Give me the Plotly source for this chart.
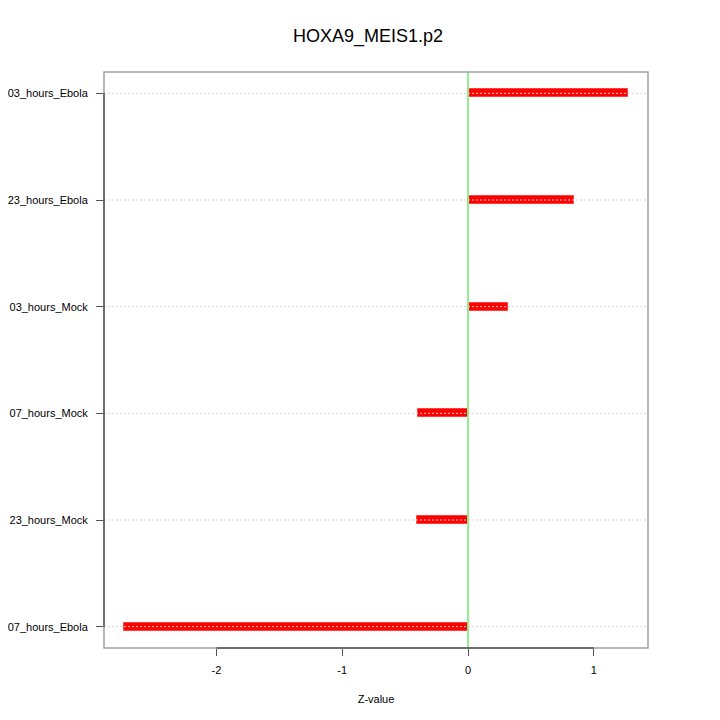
import plotly.graph_objects as go

title = "HOXA9_MEIS1.p2"
categories = ["07_hours_Ebola", "23_hours_Mock", "07_hours_Mock",
              "03_hours_Mock", "23_hours_Ebola", "03_hours_Ebola"]
zvalues = [-2.733, -0.408, -0.397, 0.314, 0.838, 1.27]
x_ticks = [-2, -1, 0, 1]
x_label = "Z-value"

ypos = list(range(1, len(categories) + 1))
fig = go.Figure()
fig.add_trace(go.Bar(
    x=zvalues, y=ypos, orientation="h", width=0.075,
    marker=dict(color="#ff0000", line=dict(color="rgba(255,0,0,0.5)", width=1)),
    showlegend=False, hoverinfo="x+y",
))

shapes = []
# dotted gridlines above bars
for yv in ypos:
    shapes.append(dict(type="line", xref="paper", yref="y", x0=0, x1=1, y0=yv, y1=yv,
                       line=dict(color="#d3d3d3", width=1, dash="2px,2px"), layer="above"))
# zero line
shapes.append(dict(type="line", xref="x", yref="paper", x0=0, x1=0, y0=0, y1=1,
                   line=dict(color="#90ee90", width=2), layer="above"))
# box
shapes.append(dict(type="rect", xref="paper", yref="paper", x0=0, x1=1, y0=0, y1=1,
                   line=dict(color="#a0a0a0", width=1.5), layer="above"))
# R-style axis lines spanning tick range
shapes.append(dict(type="line", xref="x", yref="paper", x0=min(x_ticks), x1=max(x_ticks), y0=0, y1=0,
                   line=dict(color="#555555", width=1.5), layer="above"))
shapes.append(dict(type="line", xref="paper", yref="y", x0=0, x1=0, y0=min(ypos), y1=max(ypos),
                   line=dict(color="#555555", width=1.5), layer="above"))

fig.update_layout(
    width=720, height=720,
    margin=dict(l=96, r=80, t=64, b=80, autoexpand=False),
    paper_bgcolor="white", plot_bgcolor="white",
    font=dict(family="Liberation Sans, Arial, sans-serif", color="black", size=11),
    title=dict(text=title, x=0.5, xanchor="center", y=0.962, yanchor="middle",
               font=dict(size=18)),
    shapes=shapes,
    xaxis=dict(range=[-2.893, 1.43], tickvals=x_ticks, ticktext=[str(t) for t in x_ticks],
               showgrid=False, zeroline=False, ticks="outside", ticklen=7,
               tickcolor="#555555", showline=False, ticklabelstandoff=5,
               title=dict(text=x_label, font=dict(size=11), standoff=20)),
    yaxis=dict(range=[0.8, 6.2], tickvals=ypos, ticktext=categories,
               showgrid=False, zeroline=False, ticks="outside", ticklen=7,
               tickcolor="#555555", showline=False, ticklabelstandoff=6),
    bargap=0,
)
fig.write_html("out.html")
